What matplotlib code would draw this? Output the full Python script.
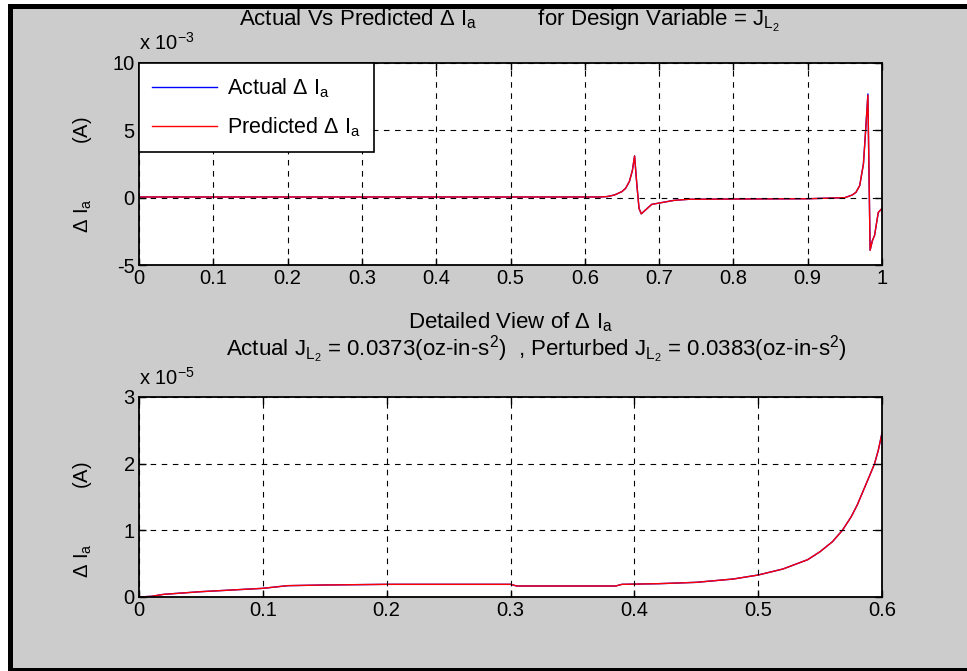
import matplotlib
matplotlib.use("Agg")
import matplotlib.pyplot as plt
from matplotlib.patches import Rectangle
import numpy as np

plt.rcParams['font.family'] = ['Liberation Sans', 'DejaVu Sans']
plt.rcParams['mathtext.fontset'] = 'custom'
plt.rcParams['mathtext.rm'] = 'Liberation Sans'
plt.rcParams['mathtext.it'] = 'Liberation Sans'
plt.rcParams['mathtext.bf'] = 'Liberation Sans'
plt.rcParams['axes.unicode_minus'] = False

# ---- data (top panel, units of 1e-3 A) ----
top_x = [0.0, 0.1, 0.2, 0.3, 0.4, 0.5, 0.6, 0.62, 0.63, 0.64, 0.65, 0.655, 0.66,
         0.664, 0.667, 0.670, 0.673, 0.676, 0.68, 0.69, 0.70, 0.72, 0.74, 0.8,
         0.9, 0.95, 0.96, 0.965, 0.97, 0.975, 0.978, 0.981, 0.984, 0.987, 0.99,
         0.995, 1.0]
top_actual = [0.05, 0.05, 0.05, 0.05, 0.05, 0.05, 0.05, 0.05, 0.08, 0.2, 0.45, 0.7, 1.2,
              2.0, 3.1, 1.0, -0.8, -1.2, -1.0, -0.5, -0.4, -0.2, -0.12, -0.1,
              -0.08, 0.0, 0.2, 0.4, 0.9, 2.5, 5.0, 7.7, -3.9, -3.2, -2.8,
              -1.1, -0.8]
top_predicted = [0.05, 0.05, 0.05, 0.05, 0.05, 0.05, 0.05, 0.05, 0.08, 0.2, 0.45, 0.7, 1.2,
                 2.0, 3.1, 1.0, -0.8, -1.2, -1.0, -0.5, -0.4, -0.2, -0.12, -0.1,
                 -0.08, 0.0, 0.2, 0.4, 0.9, 2.5, 5.0, 7.6, -3.9, -3.2, -2.8,
                 -1.1, -0.8]

# ---- data (bottom panel, units of 1e-5 A) ----
bot_x = [0.0, 0.01, 0.02, 0.05, 0.08, 0.1, 0.12, 0.15, 0.2, 0.25, 0.3, 0.305, 0.35,
         0.385, 0.39, 0.42, 0.45, 0.48, 0.5, 0.52, 0.54, 0.55, 0.56, 0.568, 0.575,
         0.58, 0.585, 0.59, 0.594, 0.597, 0.6]
bot_actual = [0.0, 0.01, 0.04, 0.08, 0.11, 0.13, 0.17, 0.18, 0.19, 0.19, 0.19, 0.165, 0.165,
              0.165, 0.19, 0.2, 0.22, 0.27, 0.33, 0.42, 0.56, 0.68, 0.83, 1.0, 1.2,
              1.38, 1.6, 1.82, 2.0, 2.2, 2.46]
bot_predicted = [0.0, 0.01, 0.04, 0.08, 0.11, 0.13, 0.17, 0.18, 0.19, 0.19, 0.19, 0.165, 0.165,
                 0.165, 0.19, 0.2, 0.22, 0.27, 0.33, 0.42, 0.56, 0.68, 0.83, 1.0, 1.2,
                 1.38, 1.6, 1.82, 2.0, 2.2, 2.46]

top_xticks = [0, 0.1, 0.2, 0.3, 0.4, 0.5, 0.6, 0.7, 0.8, 0.9, 1]
top_xticklabels = ['0', '0.1', '0.2', '0.3', '0.4', '0.5', '0.6', '0.7', '0.8', '0.9', '1']
top_yticks = [-5, 0, 5, 10]
bot_xticks = [0, 0.1, 0.2, 0.3, 0.4, 0.5, 0.6]
bot_xticklabels = ['0', '0.1', '0.2', '0.3', '0.4', '0.5', '0.6']
bot_yticks = [0, 1, 2, 3]

W, H = 967, 671
fig = plt.figure(figsize=(W / 100, H / 100), dpi=100, facecolor='white')

# gray panel with black borders (left, top, bottom)
fig.patches.append(Rectangle((12 / W, 1 - 669 / H), 1 - 12 / W, 661 / H,
                             transform=fig.transFigure, facecolor='#cccccc',
                             edgecolor='none', zorder=-10))
fig.patches.append(Rectangle((8 / W, 1 - 9 / H), 1 - 8 / W, 5 / H,
                             transform=fig.transFigure, facecolor='black',
                             edgecolor='none', zorder=-9))
fig.patches.append(Rectangle((8 / W, 1 - 671 / H), 5 / W, 666 / H,
                             transform=fig.transFigure, facecolor='black',
                             edgecolor='none', zorder=-9))
fig.patches.append(Rectangle((8 / W, 1 - 671 / H), 1 - 8 / W, 3 / H,
                             transform=fig.transFigure, facecolor='black',
                             edgecolor='none', zorder=-9))

FS = 14.5
TFS = 16


def style(ax):
    ax.set_facecolor('white')
    for s in ax.spines.values():
        s.set_linewidth(1.3)
        s.set_color('black')
    ax.tick_params(direction='in', length=5, width=1, labelsize=FS,
                   top=True, right=True, pad=3)
    ax.grid(True, color='black', linestyle=(0, (5, 5)), linewidth=0.8)
    ax.set_axisbelow(False)


# ---- top axes ----
ax1 = fig.add_axes([139 / W, 1 - 265 / H, 743 / W, 202 / H])
style(ax1)
l1, = ax1.plot(top_x, top_actual, color='#0000ff', lw=1.0, label=r'Actual $\Delta$ I$_{\rm a}$')
l2, = ax1.plot(top_x, top_predicted, color='#ff0000', lw=1.0, label=r'Predicted $\Delta$ I$_{\rm a}$')
ax1.set_xlim(0, 1)
ax1.set_ylim(-5, 10)
ax1.set_xticks(top_xticks)
ax1.set_xticklabels(top_xticklabels)
ax1.set_yticks(top_yticks)
leg = ax1.legend(handles=[l1, l2], loc='upper left', bbox_to_anchor=(0, 1),
                 fontsize=15.5, frameon=True, fancybox=False, borderaxespad=0,
                 handlelength=3.0, borderpad=0.62, labelspacing=0.72,
                 handletextpad=0.45)
leg.get_frame().set_edgecolor('black')
leg.get_frame().set_linewidth(1.2)
leg.get_frame().set_alpha(1)
for ln in leg.get_lines():
    ln.set_linewidth(1.0)

fig.text(139 / W, 1 - 50 / H, r'x 10$^{-3}$', fontsize=FS, ha='left', va='baseline')
fig.text(510 / W, 1 - 21 / H,
         r'Actual Vs Predicted $\Delta$ I$_{\rm a}$          for Design Variable = J$_{\rm L_2}$',
         fontsize=TFS, ha='center', va='center')
fig.text(83 / W, 1 - 175 / H, r'$\Delta$ I$_{\rm a}$          (A)', fontsize=FS,
         rotation=90, ha='center', va='center')

# ---- bottom axes ----
ax2 = fig.add_axes([139 / W, 1 - 597 / H, 743 / W, 200 / H])
style(ax2)
ax2.plot(bot_x, bot_actual, color='#0000ff', lw=1.0)
ax2.plot(bot_x, bot_predicted, color='#ff0000', lw=1.0)
ax2.set_xlim(0, 0.6)
ax2.set_ylim(0, 3)
ax2.set_xticks(bot_xticks)
ax2.set_xticklabels(bot_xticklabels)
ax2.set_yticks(bot_yticks)

fig.text(139 / W, 1 - 385 / H, r'x 10$^{-5}$', fontsize=FS, ha='left', va='baseline')
fig.text(510 / W, 1 - 322 / H, r'Detailed View of $\Delta$ I$_{\rm a}$', fontsize=TFS,
         ha='center', va='center')
fig.text(536 / W, 1 - 350 / H,
         r'Actual J$_{\rm L_2}$ = 0.0373(oz-in-s$^{2}$)  , Perturbed J$_{\rm L_2}$ = 0.0383(oz-in-s$^{2}$)',
         fontsize=TFS, ha='center', va='center')
fig.text(83 / W, 1 - 520 / H, r'$\Delta$ I$_{\rm a}$          (A)', fontsize=FS,
         rotation=90, ha='center', va='center')

fig.savefig('out.png', dpi=100, facecolor='white')
